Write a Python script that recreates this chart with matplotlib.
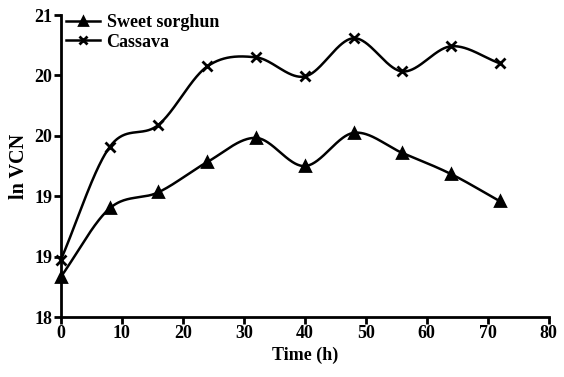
import numpy as np
import matplotlib
matplotlib.use("Agg")
import matplotlib.pyplot as plt

time_h = [0, 8, 16, 24, 32, 40, 48, 56, 64, 72]
sorghum = [18.40, 19.08, 19.24, 19.54, 19.78, 19.50, 19.83, 19.63, 19.42, 19.15]
cassava = [18.57, 19.69, 19.91, 20.49, 20.58, 20.39, 20.77, 20.44, 20.69, 20.52]
yticks = [18.0, 18.6, 19.2, 19.8, 20.4, 21.0]
xticks = [0, 10, 20, 30, 40, 50, 60, 70, 80]


def hermite_smooth(x, y, n=60):
    x = np.asarray(x, float); y = np.asarray(y, float)
    k = len(x)
    m = np.empty(k)
    m[0] = (y[1] - y[0]) / (x[1] - x[0])
    m[-1] = (y[-1] - y[-2]) / (x[-1] - x[-2])
    m[1:-1] = (y[2:] - y[:-2]) / (x[2:] - x[:-2])
    xs_all, ys_all = [], []
    for i in range(k - 1):
        h = x[i + 1] - x[i]
        t = np.linspace(0, 1, n)
        h00 = 2 * t**3 - 3 * t**2 + 1; h10 = t**3 - 2 * t**2 + t
        h01 = -2 * t**3 + 3 * t**2; h11 = t**3 - t**2
        xs_all.append(x[i] + t * h)
        ys_all.append(h00 * y[i] + h10 * h * m[i] + h01 * y[i + 1] + h11 * h * m[i + 1])
    return np.concatenate(xs_all), np.concatenate(ys_all)


plt.rcParams['font.family'] = ['Liberation Serif', 'DejaVu Serif']
fig = plt.figure(figsize=(5.64, 3.77), dpi=100)
ax = fig.add_axes([0.108, 0.159, 0.865, 0.801])

for yv, mk, ms, lab in [(sorghum, '^', 7.5, 'Sweet sorghun'), (cassava, 'x', 7.5, 'Cassava')]:
    xs, ys = hermite_smooth(time_h, yv)
    ax.plot(xs, ys, color='black', lw=1.8)
    ax.plot(time_h, yv, linestyle='none', marker=mk, ms=ms, mew=2, color='black', clip_on=False)
    ax.plot([], [], color='black', lw=1.8, marker=mk, ms=ms, mew=2, label=lab)

ax.set_xlim(0, 80)
ax.set_ylim(18, 21)
ax.set_xticks(xticks)
ax.set_yticks(yticks)
ax.set_yticklabels([f"{v:.0f}" for v in yticks])
for s in ['top', 'right']:
    ax.spines[s].set_visible(False)
for s in ['left', 'bottom']:
    ax.spines[s].set_linewidth(2)
ax.tick_params(width=2, length=5, labelsize=13, pad=1)
for t in ax.get_xticklabels() + ax.get_yticklabels():
    t.set_fontweight('bold')
ax.set_xlabel('Time (h)', fontsize=13, fontweight='bold', labelpad=3)
ax.set_ylabel('ln VCN', fontsize=14.5, fontweight='bold', labelpad=4)
leg = ax.legend(loc='upper left', bbox_to_anchor=(-0.012, 1.04), frameon=False, fontsize=13,
                handlelength=1.9, handletextpad=0.35, labelspacing=0.15, borderaxespad=0.2,
                markerscale=0.8)
for t in leg.get_texts():
    t.set_fontweight('bold')
fig.savefig('out.png', dpi=100)
